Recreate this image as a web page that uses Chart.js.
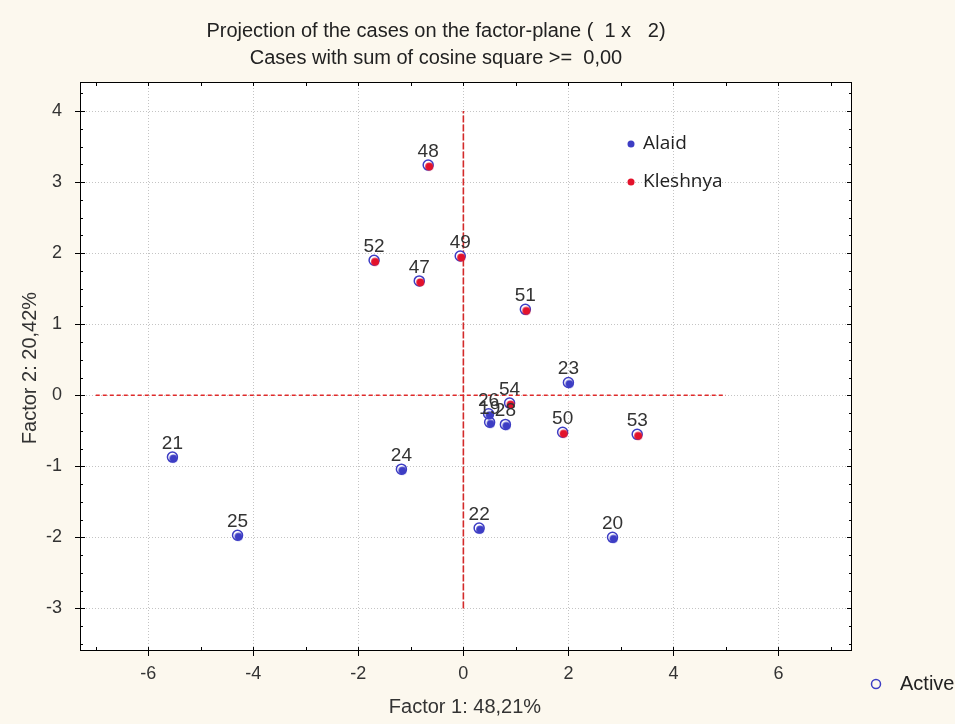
<!DOCTYPE html>
<html>
<head>
<meta charset="utf-8">
<script src="https://cdn.jsdelivr.net/npm/chart.js@4.4.1/dist/chart.umd.min.js"></script>
<style>
  html, body { margin: 0; padding: 0; background: #fcf8ee; }
  canvas { display: block; }
</style>
</head>
<body>
<canvas id="factorPlane" width="955" height="724"></canvas>
<script>
// case projections on factor 1 x factor 2
const alaidIds = ['19', '20', '21', '22', '23', '24', '25', '26', '28'];
const alaidF1 = [0.50, 2.84, -5.54, 0.30, 2.00, -1.18, -4.30, 0.48, 0.80];
const alaidF2 = [-0.38, -2.00, -0.87, -1.87, 0.18, -1.04, -1.97, -0.26, -0.41];

const kleshnyaIds = ['47', '48', '49', '50', '51', '52', '53', '54'];
const kleshnyaF1 = [-0.84, -0.67, -0.06, 1.89, 1.18, -1.70, 3.31, 0.88];
const kleshnyaF2 = [1.61, 3.24, 1.96, -0.52, 1.21, 1.90, -0.55, -0.11];

// red reference lines through the origin
const hLineX = [-7, 5];
const vLineY = [-3, 4];

const xTicks = [-6, -4, -2, 0, 2, 4, 6];
const yTicks = [-3, -2, -1, 0, 1, 2, 3, 4];

const FONT = '"Liberation Sans", Arial, sans-serif';
const BLUE = '#3d3dc4';
const RED = '#e3122b';

function toPoints(xs, ys) {
  return xs.map((x, i) => ({ x: x, y: ys[i] }));
}

// filled marker sits a little off the open circle, like in the original
function dotImage(color) {
  const c = document.createElement('canvas');
  c.width = 14; c.height = 14;
  const g = c.getContext('2d');
  g.fillStyle = color;
  g.beginPath();
  g.arc(8, 8.6, 4, 0, Math.PI * 2);
  g.fill();
  return c;
}

const decorations = {
  id: 'decorations',
  beforeDraw(chart) {
    const { ctx, chartArea: a } = chart;
    ctx.save();
    ctx.fillStyle = '#fcf8ee';
    ctx.fillRect(0, 0, chart.width, chart.height);
    ctx.fillStyle = '#ffffff';
    ctx.fillRect(a.left, a.top, a.right - a.left, a.bottom - a.top);
    ctx.restore();
  },
  afterDraw(chart) {
    const { ctx, chartArea: a, scales } = chart;
    ctx.save();

    // frame + inner ticks
    ctx.strokeStyle = '#000';
    ctx.lineWidth = 1;
    ctx.strokeRect(a.left + 0.5, a.top + 0.5, a.right - a.left - 1, a.bottom - a.top - 1);
    ctx.beginPath();
    for (let v = -7; v <= 7; v++) {
      const px = Math.round(scales.x.getPixelForValue(v)) + 0.5;
      ctx.moveTo(px, a.top); ctx.lineTo(px, a.top + 4);
      ctx.moveTo(px, a.bottom); ctx.lineTo(px, a.bottom - 4);
    }
    for (let v = -3.5; v <= 4.25; v += 0.25) {
      const py = Math.round(scales.y.getPixelForValue(v)) + 0.5;
      const len = Number.isInteger(v) ? 5 : 3;
      ctx.moveTo(a.left, py); ctx.lineTo(a.left + len, py);
      ctx.moveTo(a.right, py); ctx.lineTo(a.right - len, py);
    }
    ctx.stroke();

    // title
    ctx.fillStyle = '#222';
    ctx.font = '20px ' + FONT;
    ctx.textAlign = 'center';
    ctx.textBaseline = 'middle';
    ctx.fillText('Projection of the cases on the factor-plane (  1 x   2)', 436, 31);
    ctx.fillText('Cases with sum of cosine square >=  0,00', 436, 58);

    // axis titles
    ctx.fillStyle = '#333';
    ctx.fillText('Factor 1: 48,21%', 465, 707);
    ctx.save();
    ctx.translate(30, 368);
    ctx.rotate(-Math.PI / 2);
    ctx.fillText('Factor 2: 20,42%', 0, 0);
    ctx.restore();

    // case labels
    ctx.fillStyle = '#333';
    ctx.font = '19px ' + FONT;
    ctx.textBaseline = 'alphabetic';
    [[1, alaidIds], [2, kleshnyaIds]].forEach(([di, ids]) => {
      chart.getDatasetMeta(di).data.forEach((el, i) => {
        ctx.fillText(ids[i], el.x, el.y - 8);
      });
    });

    // group legend inside the plot
    ctx.font = '19px "Open Sans", sans-serif';
    ctx.textAlign = 'left';
    ctx.textBaseline = 'middle';
    [['Alaid', BLUE, 144], ['Kleshnya', RED, 182]].forEach(([name, col, y]) => {
      ctx.fillStyle = col;
      ctx.beginPath();
      ctx.arc(631, y, 3.5, 0, Math.PI * 2);
      ctx.fill();
      ctx.fillStyle = '#222';
      ctx.fillText(name, 643, y);
    });

    // "Active" legend, bottom right
    ctx.strokeStyle = BLUE;
    ctx.lineWidth = 1.5;
    ctx.beginPath();
    ctx.arc(876, 684, 4.5, 0, Math.PI * 2);
    ctx.stroke();
    ctx.fillStyle = '#222';
    ctx.font = '20px ' + FONT;
    ctx.fillText('Active', 900, 684);
    ctx.restore();
  }
};

const ctx = document.getElementById('factorPlane').getContext('2d');

new Chart(ctx, {
  type: 'scatter',
  data: {
    datasets: [
      {
        label: 'Active',
        data: toPoints(alaidF1.concat(kleshnyaF1), alaidF2.concat(kleshnyaF2)),
        pointRadius: 5,
        pointBorderWidth: 1.5,
        pointBorderColor: BLUE,
        pointBackgroundColor: '#ffffff',
        order: 3
      },
      {
        label: 'Alaid',
        data: toPoints(alaidF1, alaidF2),
        pointStyle: dotImage(BLUE),
        order: 2
      },
      {
        label: 'Kleshnya',
        data: toPoints(kleshnyaF1, kleshnyaF2),
        pointStyle: dotImage(RED),
        order: 1
      },
      {
        type: 'line',
        data: toPoints(hLineX, [0, 0]),
        borderColor: '#e02a2a',
        borderWidth: 1.3,
        borderDash: [4, 3],
        pointRadius: 0,
        order: 4
      },
      {
        type: 'line',
        data: toPoints([0, 0], vLineY),
        borderColor: '#d42a2a',
        borderWidth: 1.6,
        borderDash: [7, 2],
        pointRadius: 0,
        order: 4
      }
    ]
  },
  options: {
    responsive: false,
    animation: false,
    events: [],
    layout: { padding: { top: 82, right: 103, left: 0, bottom: 0 } },
    plugins: {
      legend: { display: false },
      tooltip: { enabled: false }
    },
    scales: {
      x: {
        type: 'linear',
        min: -7.3,
        max: 7.4,
        afterBuildTicks: s => { s.ticks = xTicks.map(v => ({ value: v })); },
        afterFit: s => { s.height = 73; },
        grid: {
          color: '#c4c4c4',
          tickColor: '#000',
          tickLength: 5
        },
        border: { display: false, dash: [1, 2] },
        ticks: {
          color: '#333',
          padding: 7,
          maxRotation: 0,
          font: { family: FONT, size: 18 },
          callback: v => String(v)
        }
      },
      y: {
        type: 'linear',
        min: -3.6,
        max: 4.41,
        afterBuildTicks: s => { s.ticks = yTicks.map(v => ({ value: v })); },
        afterFit: s => { s.width = 80; },
        grid: {
          color: '#c4c4c4',
          tickColor: '#000',
          tickLength: 5
        },
        border: { display: false, dash: [1, 2] },
        ticks: {
          color: '#333',
          padding: 13,
          font: { family: FONT, size: 18 },
          callback: v => String(v)
        }
      }
    }
  },
  plugins: [decorations]
});
</script>
</body>
</html>
